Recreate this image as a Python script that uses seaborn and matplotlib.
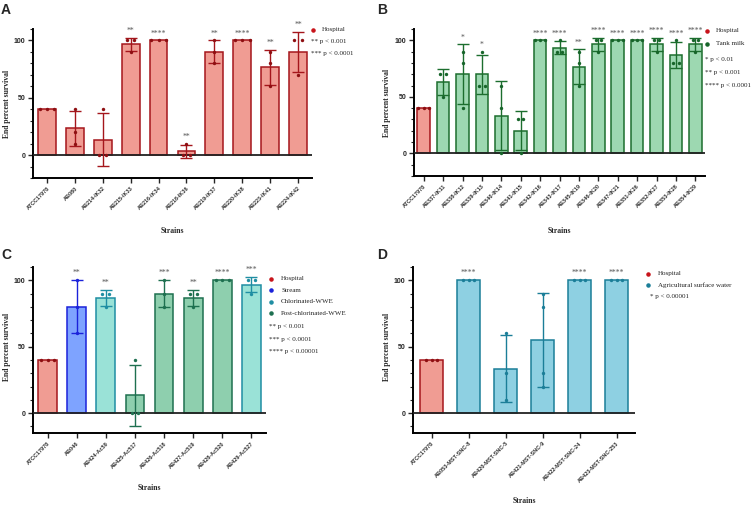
"""
End percent survival of strains by isolation source - four panel bar chart
"""

import numpy as np
import pandas as pd
import matplotlib.pyplot as plt
import seaborn as sns
from matplotlib.ticker import MultipleLocator

# ============================================================================
# DATA
# ============================================================================

# Panel A - hospital isolates
a_strains = ['ATCC17978', 'AB080', 'AB214-IK32', 'AB215-IK33', 'AB216-IK34',
             'AB218-IK36', 'AB219-IK37', 'AB220-IK38', 'AB223-IK41', 'AB224-IK42']
a_sources = ['Hospital'] * 10
a_values = [[40, 40, 40], [40, 20, 10], [40, 0, 0], [100, 100, 90], [100, 100, 100],
            [10, 0, 0], [100, 90, 80], [100, 100, 100], [90, 80, 60], [100, 100, 70]]
a_stars = ['', '', '', '**', '****', '**', '**', '****', '**', '**']
a_notes = ['** p < 0.001', '*** p < 0.0001']

# Panel B - tank milk isolates
b_strains = ['ATCC17978', 'AB337-IK11', 'AB338-IK12', 'AB339-IK13', 'AB340-IK14',
             'AB341-IK15', 'AB342-IK16', 'AB343-IK17', 'AB345-IK19', 'AB346-IK20',
             'AB347-IK21', 'AB351-IK26', 'AB352-IK27', 'AB353-IK28', 'AB354-IK29']
b_sources = ['Hospital'] + ['Tank milk'] * 14
b_values = [[40, 40, 40], [70, 70, 50], [90, 80, 40], [90, 60, 60], [60, 40, 0],
            [30, 30, 0], [100, 100, 100], [100, 90, 90], [90, 80, 60], [100, 100, 90],
            [100, 100, 100], [100, 100, 100], [100, 100, 90], [100, 80, 80], [100, 100, 90]]
b_stars = ['', '', '*', '*', '', '', '****', '****', '**', '****',
           '****', '****', '****', '****', '****']
b_notes = ['* p < 0.01', '** p < 0.001', '**** p < 0.0001']

# Panel C - stream and waste water isolates
c_strains = ['ATCC17978', 'AB046', 'AB424-Ac59', 'AB425-Ac517', 'AB426-Ac518',
             'AB427-Ac519', 'AB428-Ac520', 'AB429-Ac527']
c_sources = ['Hospital', 'Stream', 'Chlorinated-WWE', 'Post-chlorinated-WWE',
             'Post-chlorinated-WWE', 'Post-chlorinated-WWE', 'Post-chlorinated-WWE',
             'Chlorinated-WWE']
c_values = [[40, 40, 40], [100, 80, 60], [90, 90, 80], [40, 0, 0], [100, 90, 80],
            [90, 90, 80], [100, 100, 100], [100, 100, 90]]
c_stars = ['', '**', '**', '', '***', '**', '****', '***']
c_notes = ['** p < 0.001', '*** p < 0.0001', '**** p < 0.00001']

# Panel D - agricultural surface water isolates
d_strains = ['ATCC17978', 'AB053-MST-SNC-8', 'AB420-MST-SNC-5', 'AB421-MST-SNC-9',
             'AB422-MST-SNC-24', 'AB423-MST-SNC-253']
d_sources = ['Hospital'] + ['Agricultural surface water'] * 5
d_values = [[40, 40, 40], [100, 100, 100], [60, 30, 10], [90, 80, 30, 20],
            [100, 100, 100], [100, 100, 100]]
d_stars = ['', '****', '', '', '****', '****']
d_notes = ['* p < 0.00001']

# fill, edge / error bar, dots
SOURCE_COLORS = {
    'Hospital': ('#F09C93', '#A5161C', '#8E0F12'),
    'Tank milk': ('#9DD8B1', '#1C6E2E', '#17652A'),
    'Stream': ('#7EA3FF', '#1B22DA', '#1B22DA'),
    'Chlorinated-WWE': ('#9AE2D7', '#1F8EA3', '#1F8EA3'),
    'Post-chlorinated-WWE': ('#8ECFAE', '#1E7050', '#1E7050'),
    'Agricultural surface water': ('#8ED0E2', '#1B7E98', '#1B7E98'),
}
KEY_DOT = {
    'Hospital': '#C8141B',
    'Tank milk': '#17652A',
    'Stream': '#1B22DA',
    'Chlorinated-WWE': '#1F8EA3',
    'Post-chlorinated-WWE': '#1E7050',
    'Agricultural surface water': '#1B7E98',
}

W, H = 751, 505
SERIF = 'Liberation Serif'
SANS = 'Liberation Sans'


def spread_x(vals, pos, step):
    """Spread repeated values sideways like a column scatter"""
    counts = pd.Series(vals).value_counts()
    seen = {}
    xs = []
    for v in vals:
        n = counts[v]
        k = seen.get(v, 0)
        seen[v] = k + 1
        xs.append(pos + (k - (n - 1) / 2) * step)
    return xs


def draw_panel(ax, strains, sources, values, stars, ylow, step):
    rows = []
    for s, src, vals in zip(strains, sources, values):
        for v in vals:
            rows.append({'strain': s, 'source': src, 'value': v})
    df = pd.DataFrame(rows)

    src_order = list(dict.fromkeys(sources))
    for src in src_order:
        fill, edge, _ = SOURCE_COLORS[src]
        sns.barplot(data=df[df['source'] == src], x='strain', y='value', order=strains,
                    color=fill, saturation=1, edgecolor=edge, linewidth=1.1,
                    errorbar=None, width=0.64, ax=ax, zorder=2)

    stats = df.groupby('strain', sort=False)['value'].agg(['mean', 'std'])
    for i, (s, src, vals) in enumerate(zip(strains, sources, values)):
        _, edge, dot = SOURCE_COLORS[src]
        m, sd = stats.loc[s, 'mean'], stats.loc[s, 'std']
        if sd > 0:
            ax.errorbar(i, m, yerr=sd, fmt='none', ecolor=edge, elinewidth=1,
                        capsize=4.3, capthick=1, zorder=4)
        pts = pd.DataFrame({'x': spread_x(vals, i, step), 'y': vals})
        sns.scatterplot(data=pts, x='x', y='y', color=dot, s=6, linewidth=0,
                        legend=False, ax=ax, zorder=5)
        top = max(m + sd, max(vals))
        if stars[i]:
            ax.text(i, top + 2.5, stars[i], ha='center', va='bottom', fontsize=5.5,
                    color='#555555', family=SERIF)

    ax.axhline(0, color='#222222', lw=1.3, zorder=3)
    ax.set_xlim(-0.5, len(strains) - 0.5)
    ax.set_ylim(ylow, 110)
    ax.set_yticks([0, 50, 100])
    ax.set_yticklabels(['0', '50', '100'], fontsize=5, fontweight='bold', family=SANS)
    ax.yaxis.set_minor_locator(MultipleLocator(10))
    ax.set_xticks(range(len(strains)))
    ax.set_xticklabels(strains, rotation=45, ha='right', rotation_mode='anchor',
                       fontsize=4, fontweight='bold', family=SANS, color='#333333')
    ax.tick_params(axis='both', which='major', length=3.5, width=1, pad=2)
    ax.tick_params(axis='y', which='minor', length=2, width=0.8)
    ax.tick_params(axis='x', which='minor', length=0)
    for side in ['top', 'right']:
        ax.spines[side].set_visible(False)
    for side in ['left', 'bottom']:
        ax.spines[side].set_linewidth(1.4)
        ax.spines[side].set_color('black')
    ax.set_ylabel('End percent survival', fontsize=5.5, fontweight='bold', family=SERIF)
    ax.set_xlabel('Strains', fontsize=5.5, fontweight='bold', family=SERIF)
    ax.grid(False)


def add_key(fig, ax, sources, notes, dot_x, text_x, note_x, ys):
    entries = list(dict.fromkeys(sources))
    for src, y in zip(entries, ys):
        ax.scatter([dot_x / W], [1 - y / H], s=5, color=KEY_DOT[src],
                   transform=fig.transFigure, clip_on=False, zorder=6)
        fig.text(text_x / W, 1 - y / H, src, fontsize=5, family=SERIF,
                 va='center', ha='left', color='#222222')
    for note, y in zip(notes, ys[len(entries):]):
        fig.text(note_x / W, 1 - y / H, note, fontsize=5, family=SERIF,
                 va='center', ha='left', color='#222222')


def px_axes(fig, left, top, right, bottom):
    return fig.add_axes([left / W, 1 - bottom / H, (right - left) / W, (bottom - top) / H])


# ============================================================================
# FIGURE
# ============================================================================

sns.set_theme(style='ticks')
plt.rcParams['font.family'] = ['Liberation Sans', 'DejaVu Sans']

fig = plt.figure(figsize=(W / 100, H / 100), dpi=100)

ax_a = px_axes(fig, 33, 29, 312, 178)
draw_panel(ax_a, a_strains, a_sources, a_values, a_stars, -20, 0.26)
ax_a.xaxis.set_label_coords(0.5, -0.33)
ax_a.yaxis.set_label_coords(-0.08, 0.5)
add_key(fig, ax_a, a_sources, a_notes, 313, 322, 311, [29.5, 41, 53])

ax_b = px_axes(fig, 414, 29, 705, 176)
draw_panel(ax_b, b_strains, b_sources, b_values, b_stars, -20, 0.27)
ax_b.xaxis.set_label_coords(0.5, -0.35)
ax_b.yaxis.set_label_coords(-0.08, 0.5)
add_key(fig, ax_b, b_sources, b_notes, 707, 716, 705, [30.5, 43.5, 60, 72.5, 85])

ax_c = px_axes(fig, 33, 267, 266, 433)
draw_panel(ax_c, c_strains, c_sources, c_values, c_stars, -15, 0.23)
ax_c.xaxis.set_label_coords(0.5, -0.31)
ax_c.yaxis.set_label_coords(-0.095, 0.52)
add_key(fig, ax_c, c_sources, c_notes, 271, 281, 269,
        [278.7, 290.3, 301.7, 313.3, 326.3, 339.3, 352])

ax_d = px_axes(fig, 413, 267, 635, 433)
draw_panel(ax_d, d_strains, d_sources, d_values, d_stars, -15, 0.14)
ax_d.xaxis.set_label_coords(0.5, -0.385)
ax_d.yaxis.set_label_coords(-0.1, 0.52)
add_key(fig, ax_d, d_sources, d_notes, 648, 658, 650, [274, 285.3, 296.7])

for label, x, y in [('A', 1, 3), ('B', 377, 3), ('C', 1, 248), ('D', 377, 248)]:
    fig.text(x / W, 1 - y / H, label, fontsize=10, fontweight='bold', family=SANS,
             ha='left', va='top')

fig.savefig('out.png', dpi=100)
